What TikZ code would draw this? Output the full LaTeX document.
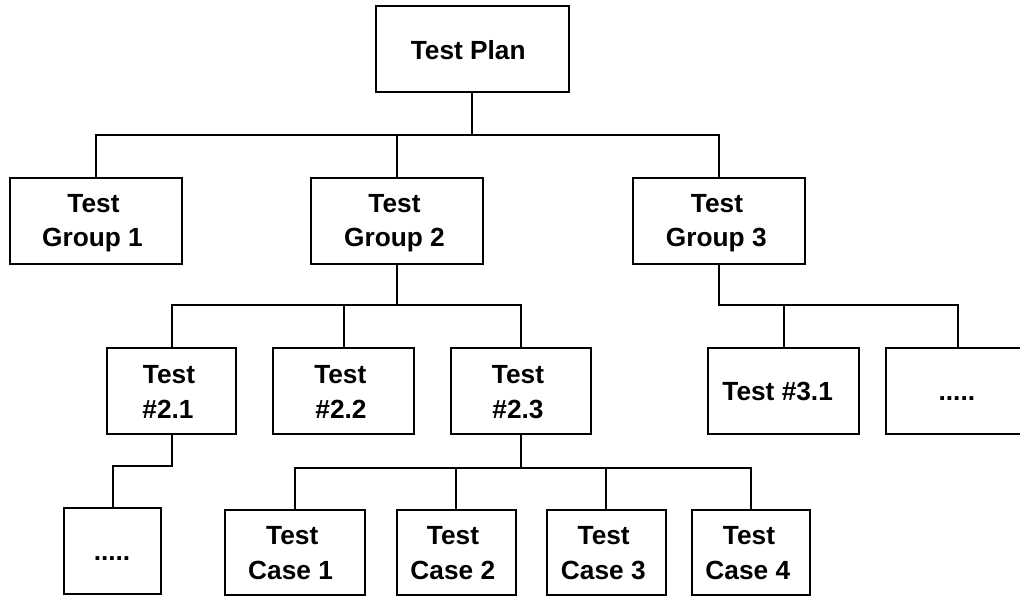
\documentclass[tikz,border=0pt]{standalone}
\usepackage{fontspec}
\setmainfont{Liberation Sans}
\newcommand\tl[3]{\makebox[0pt]{\kern#1\unitlength\kern#1\unitlength\raisebox{#2\unitlength}[0pt][0pt]{#3}}}
\setlength{\unitlength}{0.75pt}
\newcommand\tll[5][-26]{\rlap{\tl{#2}{#3}{#4}}\tl{#2}{#1}{#5}}
\newcommand\tlm[6][-26]{\rlap{\tl{#2}{#3}{#4}}\tl{#5}{#1}{#6}}
\tikzset{
  px/.style={x=0.75pt,y=-0.75pt},
  tbox/.style={draw=black,line width=1.5pt,fill=white,rectangle,inner sep=0pt,outer sep=0pt,
    font=\fontsize{19.7pt}{25pt}\selectfont\bfseries,text=black},
  link/.style={draw=black,line width=1.5pt,line cap=rect}
}
\newcommand\bx[6]{\node[tbox,minimum width=#4*0.75pt-#2*0.75pt,minimum height=#5*0.75pt-#3*0.75pt] (#1) at ({(#2+#4)/2},{(#3+#5)/2}) {#6};}
\begin{document}
\begin{tikzpicture}[px]
\useasboundingbox (0,0) rectangle (1020,596);
\fill[white] (0,0) rectangle (1020,596);
\bx{plan}{375.7}{6}{568.7}{92}{\tl{-4}{-10}{Test Plan}}
\bx{ga}{10}{178}{182}{264}{\tlm[-25.7]{-2.5}{8.4}{Test}{-3.5}{Group 1}}
\bx{gb}{311}{178}{483}{264}{\tlm[-25.7]{-2.5}{8.4}{Test}{-2.5}{Group 2}}
\bx{gc}{632.7}{178}{805.3}{264}{\tlm[-25.7]{-2}{8.4}{Test}{-2.7}{Group 3}}
\bx{ta}{107}{348}{236}{434}{\tlm[-27]{-2.5}{7.7}{Test}{-3.5}{\#2.1}}
\bx{tb}{273}{348}{414}{434}{\tlm[-27]{-3.2}{7.7}{Test}{-2.5}{\#2.2}}
\bx{tc}{450.5}{348}{590.5}{434}{\tlm[-27]{-2.5}{7.7}{Test}{-2.5}{\#2.3}}
\bx{td}{708.3}{348}{859}{434}{\tl{-6}{-9}{Test \#3.1}}
\bx{te}{885.7}{348}{1030}{434}{\tl{-1}{-9}{.....}}
\bx{ua}{64}{508}{161}{594}{\tl{-0.5}{-9}{.....}}
\bx{ca}{224.5}{510}{365}{595.3}{\tlm[-26.6]{-2.5}{8}{Test}{-4.2}{Case 1}}
\bx{cb}{396.5}{510}{515.5}{595.3}{\tlm[-26.6]{-3}{8}{Test}{-3.2}{Case 2}}
\bx{cc}{546.7}{510}{665.7}{595.3}{\tlm[-26.6]{-2.5}{8}{Test}{-2.9}{Case 3}}
\bx{cd}{692.3}{510}{810.3}{595.3}{\tlm[-26.6]{-2.3}{8}{Test}{-3.5}{Case 4}}
\coordinate (bus1) at (472.2,135);
\coordinate (bus2) at (397,305);
\coordinate (bus3) at (719,305);
\coordinate (bus4) at (520.5,467.5);
\coordinate (bus5) at (171.5,465.5);
\draw[link] (plan.south) -- (bus1);
\draw[link] (ga.north) |- (bus1);
\draw[link] (gb.north) |- (bus1);
\draw[link] (gc.north) |- (bus1);
\draw[link] (gb.south) -- (bus2);
\draw[link] (ta.north) |- (bus2);
\draw[link] (tb.north) |- (bus2);
\draw[link] (tc.north) |- (bus2);
\draw[link] (gc.south) -- (bus3);
\draw[link] (td.north) |- (bus3);
\draw[link] (te.north) |- (bus3);
\draw[link] (ta.south) -- (bus5);
\draw[link] (ua.north) |- (bus5);
\draw[link] (tc.south) -- (bus4);
\draw[link] (ca.north) |- (bus4);
\draw[link] (cb.north) |- (bus4);
\draw[link] (cc.north) |- (bus4);
\draw[link] (cd.north) |- (bus4);
\end{tikzpicture}
\end{document}
